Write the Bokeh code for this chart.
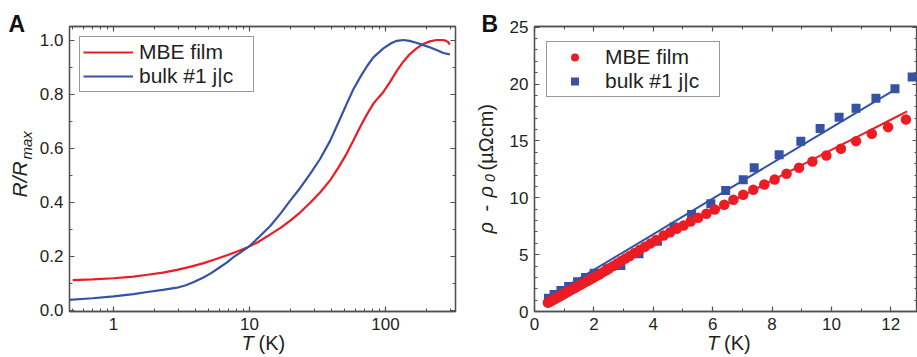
import math
from bokeh.plotting import figure
from bokeh.models import (Range1d, FixedTicker, LinearAxis, LogAxis, Label, Legend,
                          LegendItem, PrintfTickFormatter, CustomJSTickFormatter, GridBox)
from bokeh.layouts import row
from bokeh.embed import file_html
from bokeh.resources import INLINE

# ---------------- data ----------------
# Panel A: normalised resistance vs temperature (log T)
T_film = [0.50, 0.7, 1.0, 1.4, 1.77, 2.3, 2.93, 3.7, 4.6, 5.6, 6.83, 8.2, 9.6, 11.5, 14.2,
          17, 19.9, 23.5, 27.9, 33, 39.2, 45, 51.8, 58, 65, 73, 81.4, 88, 96.4, 108, 121,
          135, 151, 170, 189, 212, 237, 260, 273, 288, 297]
R_film = [0.112, 0.115, 0.119, 0.125, 0.132, 0.140, 0.150, 0.162, 0.175, 0.189, 0.204,
          0.219, 0.233, 0.252, 0.281, 0.306, 0.332, 0.362, 0.398, 0.436, 0.482, 0.528,
          0.580, 0.628, 0.678, 0.725, 0.765, 0.785, 0.808, 0.845, 0.886, 0.920, 0.948,
          0.970, 0.985, 0.995, 1.000, 1.000, 0.999, 0.993, 0.983]

T_bulk = [0.47, 0.7, 1.0, 1.4, 1.77, 2.3, 2.93, 3.4, 3.89, 4.5, 5.15, 5.9, 6.83, 7.7, 8.55,
          10.1, 12, 14.2, 17, 19.9, 23.5, 27.9, 33, 39.2, 45, 51.8, 58, 65, 73, 81.4, 96.4,
          110, 121, 135, 150, 168, 190, 211, 240, 266, 297]
R_bulk = [0.039, 0.045, 0.052, 0.060, 0.068, 0.076, 0.084, 0.093, 0.105, 0.120, 0.136,
          0.156, 0.178, 0.199, 0.214, 0.240, 0.276, 0.312, 0.360, 0.406, 0.452, 0.505,
          0.560, 0.628, 0.695, 0.764, 0.818, 0.862, 0.903, 0.936, 0.969, 0.988, 0.997,
          1.000, 0.997, 0.990, 0.981, 0.973, 0.962, 0.952, 0.947]

# Panel B: rho - rho0 vs T (linear)
T_film_pts = [0.45, 0.47, 0.50, 0.52, 0.55, 0.58, 0.61, 0.64, 0.67, 0.70, 0.74, 0.78, 0.82,
              0.86, 0.90, 0.95, 1.00, 1.05, 1.10, 1.16, 1.22, 1.28, 1.34, 1.41, 1.48, 1.55,
              1.63, 1.71, 1.80, 1.89, 1.98, 2.08, 2.18, 2.29, 2.40, 2.52, 2.65, 2.78, 2.92,
              3.06, 3.21, 3.37, 3.54, 3.72, 3.91, 4.10, 4.35, 4.57, 4.79, 5.02, 5.26, 5.51,
              5.79, 6.07, 6.39, 6.70, 7.03, 7.37, 7.74, 8.09, 8.49, 8.91, 9.36, 9.83, 10.32,
              10.83, 11.36, 11.91, 12.51]
rho_film_pts = [0.78, 0.81, 0.85, 0.88, 0.92, 0.96, 1.01, 1.05, 1.09, 1.14, 1.19, 1.25, 1.31,
                1.37, 1.42, 1.49, 1.57, 1.64, 1.71, 1.80, 1.88, 1.97, 2.05, 2.15, 2.25, 2.35,
                2.47, 2.58, 2.71, 2.84, 2.97, 3.11, 3.26, 3.44, 3.61, 3.80, 4.00, 4.21, 4.43,
                4.65, 4.88, 5.14, 5.40, 5.69, 5.99, 6.29, 6.68, 6.97, 7.27, 7.56, 7.92, 8.24,
                8.59, 8.97, 9.38, 9.82, 10.26, 10.70, 11.17, 11.61, 12.11, 12.64, 13.19, 13.72,
                14.31, 14.98, 15.63, 16.21, 16.89]

T_bulk_pts = [0.47, 0.66, 0.89, 1.15, 1.45, 1.72, 2.01, 2.46, 2.91, 3.52, 4.14, 4.70, 5.29,
              5.94, 6.44, 7.03, 7.40, 8.24, 8.97, 9.62, 10.26, 10.83, 11.50, 12.14, 12.72]
rho_bulk_pts = [1.17, 1.50, 1.85, 2.20, 2.62, 3.00, 3.37, 3.75, 4.05, 5.07, 6.18, 7.42, 8.53,
                9.47, 10.64, 11.58, 12.64, 13.78, 14.98, 16.10, 17.09, 17.88, 18.76, 19.58,
                20.61]

# fit lines drawn through the points
T_fit_film = [0.45, 1, 2, 3, 4, 5, 6, 7, 8, 9, 10, 11, 12, 12.55]
rho_fit_film = [0.77, 1.63, 3.13, 4.58, 6.00, 7.40, 8.79, 10.16, 11.52, 12.87, 14.21, 15.54,
                16.86, 17.59]
T_fit_bulk = [0.42, 3.0, 6.0, 9.0, 12.28]
rho_fit_bulk = [1.20, 5.23, 9.92, 14.60, 19.73]

# tick positions
A_xticks = [1, 10, 100]
A_xminor = [0.5, 0.6, 0.7, 0.8, 0.9, 2, 3, 4, 5, 6, 7, 8, 9, 20, 30, 40, 50, 60, 70, 80, 90,
            200, 300]
A_yticks = [0.0, 0.2, 0.4, 0.6, 0.8, 1.0]
A_yminor = [0.1, 0.3, 0.5, 0.7, 0.9]
B_xticks = [0, 2, 4, 6, 8, 10, 12]
B_xminor = [1, 3, 5, 7, 9, 11]
B_yticks = [0, 5, 10, 15, 20, 25]
B_yminor = [1, 2, 3, 4, 6, 7, 8, 9, 11, 12, 13, 14, 16, 17, 18, 19, 21, 22, 23, 24]

# ---------------- style ----------------
RED = "#EC1C24"
BLUE = "#3652A5"
AX = "#505050"
TXT = "#231F20"
FONT = "Liberation Sans"


def style_axis(ax, major, minor, show_labels=True, fmt=None):
    ax.ticker = FixedTicker(ticks=major, minor_ticks=minor)
    ax.axis_line_color = AX
    ax.axis_line_width = 1.3
    ax.major_tick_line_color = AX
    ax.minor_tick_line_color = AX
    ax.major_tick_line_width = 1.2
    ax.minor_tick_line_width = 1.0
    ax.major_tick_in = 5
    ax.major_tick_out = 0
    ax.minor_tick_in = 3
    ax.minor_tick_out = 0
    ax.axis_label = None
    ax.major_label_text_font = FONT
    ax.major_label_text_font_size = "17px"
    ax.major_label_text_color = TXT
    if show_labels:
        ax.major_label_standoff = 6
        if fmt is not None:
            ax.formatter = fmt
    else:
        ax.major_label_standoff = 0
        ax.formatter = CustomJSTickFormatter(code="return ''")


def base_fig(frame_w, left, right, x_range, y_range, log_x=False):
    p = figure(frame_width=frame_w, frame_height=285, x_range=x_range, y_range=y_range,
               x_axis_type="log" if log_x else "linear", toolbar_location=None,
               output_backend="svg", min_border_left=left, min_border_right=right,
               min_border_top=26, min_border_bottom=46)
    p.xgrid.visible = False
    p.ygrid.visible = False
    p.outline_line_color = AX
    p.outline_line_width = 1.3
    p.background_fill_color = "white"
    p.border_fill_color = "white"
    return p


# ---------------- panel A ----------------
pA = base_fig(386, 69, 5, Range1d(0.474, 327), Range1d(-0.004, 1.05), log_x=True)
style_axis(pA.xaxis[0], A_xticks, A_xminor, fmt=PrintfTickFormatter(format="%d"))
style_axis(pA.yaxis[0], A_yticks, A_yminor, fmt=PrintfTickFormatter(format="%.1f"))
topA = LogAxis()
style_axis(topA, A_xticks, A_xminor, show_labels=False)
pA.add_layout(topA, "above")
rightA = LinearAxis()
style_axis(rightA, A_yticks, A_yminor, show_labels=False)
pA.add_layout(rightA, "right")

r_film = pA.line(T_film, R_film, line_color=RED, line_width=2.2)
r_bulk = pA.line(T_bulk, R_bulk, line_color=BLUE, line_width=2.2)

legA = Legend(items=[LegendItem(label="MBE film", renderers=[r_film]),
                     LegendItem(label="bulk #1 j|c", renderers=[r_bulk])],
              location=(10, 219), label_text_font=FONT, label_text_font_size="21px",
              label_text_color=TXT, glyph_width=50, glyph_height=20, label_height=20,
              label_width=111, label_standoff=6, padding=3, spacing=0, margin=0,
              border_line_color="#333333", border_line_width=1,
              background_fill_color="white", background_fill_alpha=1.0)
pA.add_layout(legA)

# ---------------- panel B ----------------
pB = base_fig(383, 74, 0, Range1d(0, 12.9), Range1d(0, 25.06))
style_axis(pB.xaxis[0], B_xticks, B_xminor)
style_axis(pB.yaxis[0], B_yticks, B_yminor)
topB = LinearAxis()
style_axis(topB, B_xticks, B_xminor, show_labels=False)
pB.add_layout(topB, "above")
rightB = LinearAxis()
style_axis(rightB, B_yticks, B_yminor, show_labels=False)
pB.add_layout(rightB, "right")

s_bulk = pB.scatter(T_bulk_pts, rho_bulk_pts, marker="square", size=9,
                    fill_color=BLUE, line_color=None)
pB.line(T_fit_bulk, rho_fit_bulk, line_color=BLUE, line_width=2)
s_film = pB.scatter(T_film_pts, rho_film_pts, marker="circle", size=10.5,
                    fill_color=RED, line_color=None)
pB.line(T_fit_film, rho_fit_film, line_color=RED, line_width=2)

legB = Legend(items=[LegendItem(label="MBE film", renderers=[s_film]),
                     LegendItem(label="bulk #1 j|c", renderers=[s_bulk])],
              location=(12, 214), label_text_font=FONT, label_text_font_size="21px",
              label_text_color=TXT, glyph_width=49, glyph_height=20, label_height=20,
              label_width=111, label_standoff=6, padding=3, spacing=0, margin=0,
              border_line_color="#333333", border_line_width=1,
              background_fill_color="white", background_fill_alpha=1.0)
pB.add_layout(legB)

# ---------------- text overlay (axis titles and panel letters) ----------------
ov = figure(frame_width=917, frame_height=357, x_range=Range1d(0, 917),
            y_range=Range1d(357, 0), x_axis_location=None, y_axis_location=None,
            toolbar_location=None, output_backend="svg", min_border=0)
ov.grid.visible = False
ov.outline_line_color = None
ov.background_fill_alpha = 0
ov.border_fill_alpha = 0

SHIFT = 8  # correction between the intended baseline and where the text is drawn


def add_text(x, y, text, size, style="normal", angle=0.0, color=TXT):
    if angle == 0.0:
        y = y - SHIFT
    else:
        x = x - SHIFT
    ov.add_layout(Label(x=x, y=y, text=text, text_font=FONT, text_font_size=size,
                        text_font_style=style, text_color=color, angle=angle,
                        text_align="left", text_baseline="alphabetic"))


UP = math.pi / 2
add_text(8, 31, "A", "23px", style="bold", color="#111111")
add_text(241, 350, "T", "20px", style="italic")
add_text(258, 350, "(K)", "20px")
add_text(27, 197, "R/R", "21px", style="italic", angle=UP)
add_text(34, 159, "max", "15px", style="italic", angle=UP)

add_text(481, 31.5, "B", "23px", style="bold", color="#111111")
add_text(706.5, 350, "T", "20px", style="italic")
add_text(723.5, 350, "(K)", "20px")
add_text(493.5, 233, "ρ", "20px", style="italic", angle=UP)
add_text(493.5, 211, "-", "20px", angle=UP)
add_text(493.5, 197, "ρ", "20px", style="italic", angle=UP)
add_text(497.5, 181.5, "0", "14px", style="italic", angle=UP)
add_text(493.5, 170, "(µΩcm)", "20px", angle=UP)

plots = row(pA, pB)
layout = GridBox(children=[(plots, 0, 0), (ov, 0, 0)])
open("out.html", "w").write(file_html(layout, INLINE))
